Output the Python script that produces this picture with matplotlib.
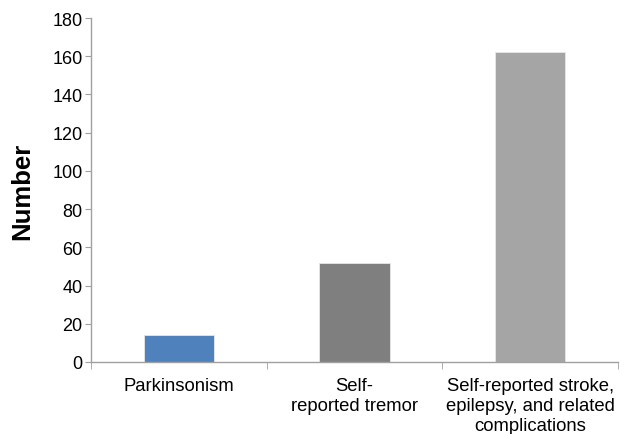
import matplotlib.pyplot as plt

plt.rcParams['font.family'] = ['Liberation Sans', 'DejaVu Sans']

categories = ['Parkinsonism', 'Self-\nreported tremor',
              'Self-reported stroke,\nepilepsy, and related\ncomplications']
values = [14, 52, 162]
colors = ['#4f81bd', '#7f7f7f', '#a5a5a5']

fig = plt.figure(figsize=(6.31, 4.35), dpi=100)
ax = fig.add_axes([91 / 631, 1 - 363 / 435, 527 / 631, 344 / 435])

x = range(len(categories))
ax.bar(x, values, width=0.4, color=colors, edgecolor='#e8e8e8', linewidth=0.6)

ax.set_xlim(-0.5, len(categories) - 0.5)
ax.set_ylim(0, 180)
ax.set_yticks(range(0, 181, 20))

ax.set_xticks(list(x))
ax.set_xticklabels(categories, fontsize=13.3, linespacing=1.22)
ax.set_xticks([-0.5, 0.5, 1.5, 2.5], minor=True)
ax.tick_params(axis='x', which='major', length=0, pad=11)
ax.tick_params(axis='x', which='minor', length=5, color='#a0a0a0', direction='out')
ax.tick_params(axis='y', length=4, color='#a0a0a0', labelsize=13, pad=2)

ax.set_ylabel('Number', fontsize=18.5, fontweight='bold', labelpad=13)

for s in ['top', 'right']:
    ax.spines[s].set_visible(False)
for s in ['left', 'bottom']:
    ax.spines[s].set_color('#a0a0a0')
    ax.spines[s].set_linewidth(1)

fig.savefig('out.png', dpi=100)
